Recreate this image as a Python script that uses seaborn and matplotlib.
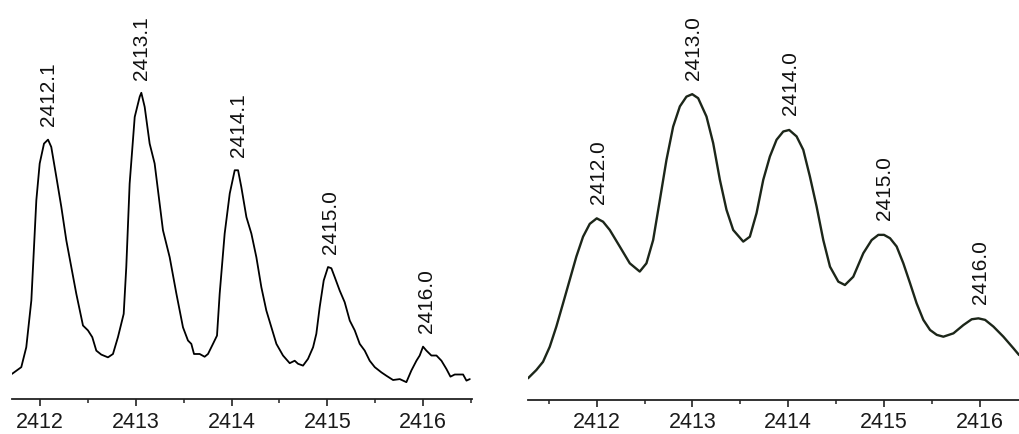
import matplotlib
matplotlib.use('Agg')
import matplotlib.pyplot as plt
from matplotlib.ticker import MultipleLocator, FormatStrFormatter
import seaborn as sns

# 左图：原始质谱（相对强度，最高峰 = 100）
mz_raw = [2411.708, 2411.805, 2411.857, 2411.910, 2411.962, 2411.997, 2412.042, 2412.084,
          2412.118, 2412.171, 2412.223, 2412.275, 2412.327, 2412.379, 2412.449, 2412.501,
          2412.546, 2412.588, 2412.640, 2412.710, 2412.762, 2412.814, 2412.874, 2412.901,
          2412.936, 2412.989, 2413.041, 2413.058, 2413.093, 2413.145, 2413.197, 2413.284,
          2413.354, 2413.424, 2413.493, 2413.545, 2413.580, 2413.608, 2413.667, 2413.719,
          2413.754, 2413.806, 2413.848, 2413.876, 2413.928, 2413.981, 2414.033, 2414.068,
          2414.102, 2414.155, 2414.207, 2414.259, 2414.311, 2414.363, 2414.416, 2414.468,
          2414.537, 2414.607, 2414.659, 2414.694, 2414.746, 2414.798, 2414.851, 2414.885,
          2414.920, 2414.962, 2415.007, 2415.042, 2415.077, 2415.129, 2415.181, 2415.234,
          2415.286, 2415.338, 2415.390, 2415.442, 2415.495, 2415.564, 2415.616, 2415.686,
          2415.756, 2415.825, 2415.877, 2415.930, 2415.964, 2415.999, 2416.034, 2416.086,
          2416.139, 2416.191, 2416.243, 2416.285, 2416.330, 2416.417, 2416.452, 2416.487]
int_raw = [8.2, 10.4, 16.9, 32.2, 64.9, 76.9, 83.4, 84.7,
           82.3, 72.5, 62.7, 51.8, 43.1, 34.4, 24.0, 22.4,
           20.2, 15.8, 14.5, 13.6, 14.7, 20.2, 27.8, 43.1,
           70.3, 92.1, 98.7, 100.0, 95.4, 83.4, 76.9, 55.1,
           46.3, 34.4, 23.4, 19.1, 18.0, 14.7, 14.7, 13.8,
           14.7, 18.0, 20.7, 34.4, 54.0, 67.1, 74.7, 74.7,
           69.2, 59.4, 54.0, 46.3, 36.5, 28.9, 23.4, 18.0,
           14.2, 11.7, 12.5, 11.5, 10.9, 13.1, 16.9, 21.3,
           30.0, 38.7, 43.1, 42.7, 39.8, 35.4, 31.6, 25.6,
           22.4, 18.0, 15.8, 12.5, 10.4, 8.7, 7.6, 6.2,
           6.5, 5.5, 9.3, 12.5, 14.2, 17.1, 15.8, 14.2,
           14.2, 12.5, 9.8, 7.3, 8.0, 8.0, 6.0, 6.5]
peak_raw_lab = ['2412.1', '2413.1', '2414.1', '2415.0', '2416.0']
peak_raw_x = [2412.090, 2413.058, 2414.068, 2415.035, 2416.035]
peak_raw_y = [84.7, 100.0, 74.7, 43.1, 17.1]

# 右图：平滑/模拟谱
mz_fit = [2411.282, 2411.369, 2411.439, 2411.509, 2411.578, 2411.648, 2411.718, 2411.787,
          2411.857, 2411.927, 2412.000, 2412.066, 2412.136, 2412.240, 2412.345, 2412.449,
          2412.519, 2412.589, 2412.659, 2412.728, 2412.798, 2412.868, 2412.937, 2412.997,
          2413.059, 2413.146, 2413.216, 2413.286, 2413.355, 2413.425, 2413.530, 2413.599,
          2413.669, 2413.739, 2413.808, 2413.878, 2413.948, 2414.010, 2414.087, 2414.157,
          2414.226, 2414.296, 2414.366, 2414.436, 2414.523, 2414.592, 2414.679, 2414.784,
          2414.871, 2414.941, 2415.000, 2415.063, 2415.132, 2415.202, 2415.272, 2415.341,
          2415.411, 2415.481, 2415.551, 2415.620, 2415.725, 2415.829, 2415.916, 2415.986,
          2416.056, 2416.143, 2416.247, 2416.352, 2416.411]
int_fit = [7.1, 9.8, 12.5, 17.4, 24.0, 31.6, 39.3, 46.9,
           53.4, 57.6, 59.4, 58.3, 55.6, 50.2, 44.7, 42.0,
           44.7, 52.3, 65.4, 78.5, 89.4, 96.0, 99.2, 100.0,
           98.7, 92.7, 84.0, 72.0, 62.2, 55.6, 51.8, 53.4,
           61.1, 72.0, 79.6, 85.1, 87.8, 88.3, 86.2, 81.8,
           73.1, 63.3, 52.3, 43.6, 38.7, 37.6, 40.3, 48.0,
           52.3, 54.0, 54.0, 52.9, 50.2, 44.7, 38.2, 31.6,
           26.2, 22.9, 21.3, 20.7, 21.8, 24.5, 26.4, 26.7,
           26.2, 24.0, 20.7, 16.9, 14.7]
peak_fit_lab = ['2412.0', '2413.0', '2414.0', '2415.0', '2416.0']
peak_fit_x = [2412.02, 2413.01, 2414.02, 2415.01, 2416.01]
peak_fit_y = [59.4, 100.0, 88.3, 54.0, 26.7]

sns.set_style('white')
plt.rcParams['font.family'] = ['Liberation Sans', 'DejaVu Sans']

fig = plt.figure(figsize=(10.19, 4.34), dpi=100)
ax1 = fig.add_axes([12 / 1019, 35 / 434, 460 / 1019, 399 / 434])
ax2 = fig.add_axes([528 / 1019, 34 / 434, 491 / 1019, 400 / 434])

sns.lineplot(x=mz_raw, y=int_raw, ax=ax1, color='black', linewidth=1.3)
sns.lineplot(x=mz_fit, y=int_fit, ax=ax2, color='#1c2619', linewidth=1.7)

settings = [
    (ax1, (2411.708, 2416.51), (0, 130.3), peak_raw_lab, peak_raw_x, peak_raw_y, 9.5),
    (ax2, (2411.282, 2416.41), (0, 130.8), peak_fit_lab, peak_fit_x, peak_fit_y, 10.5),
]
for ax, xl, yl, labs, px, py, off in settings:
    ax.set_xlim(*xl)
    ax.set_ylim(*yl)
    for s in ['top', 'right', 'left']:
        ax.spines[s].set_visible(False)
    ax.spines['bottom'].set_linewidth(1.3)
    ax.spines['bottom'].set_color('#222222')
    ax.set_yticks([])
    ax.xaxis.set_major_locator(MultipleLocator(1))
    ax.xaxis.set_minor_locator(MultipleLocator(0.5))
    ax.xaxis.set_major_formatter(FormatStrFormatter('%d'))
    ax.tick_params(axis='x', which='major', direction='out', length=5, width=1.2,
                   labelsize=15.5, pad=4, bottom=True, color='#222222', labelcolor='#1a1a1a')
    ax.tick_params(axis='x', which='minor', direction='out', length=3, width=1.1,
                   bottom=True, color='#222222')
    ax.set_xlabel('')
    ax.set_ylabel('')
    for t, x, y in zip(labs, px, py):
        ax.annotate(t, (x, y), xytext=(0, off), textcoords='offset points',
                    rotation=90, ha='center', va='bottom', fontsize=15, color='#111111')

fig.savefig('out.png', dpi=100)
